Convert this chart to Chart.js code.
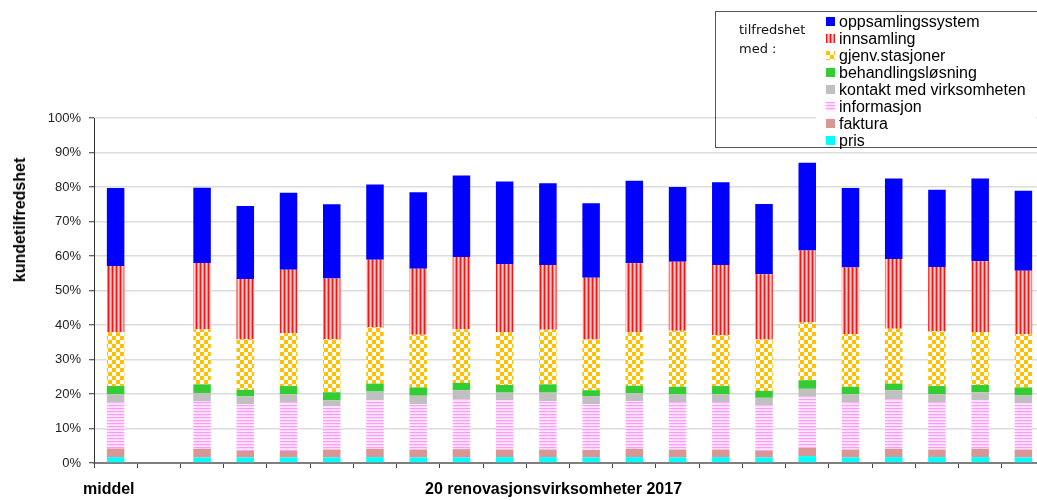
<!DOCTYPE html>
<html>
<head>
<meta charset="utf-8">
<script src="https://cdn.jsdelivr.net/npm/chart.js@4/dist/chart.umd.min.js"></script>
<style>
    html, body { margin: 0; padding: 0; overflow: hidden; background: #fff; }
    body { width: 1037px; height: 500px; position: relative; font-family: "Liberation Sans", Arial, sans-serif; }
    #wrap { position: absolute; left: 0; top: 0; width: 1046px; height: 500px; }
    .lbl { position: absolute; font-weight: bold; font-size: 16px; color: #000; white-space: nowrap; line-height: 16px; }
    #ytitle { left: 20px; top: 220px; transform: translate(-50%, -50%) rotate(-90deg); }
    #legendBox { position: absolute; left: 715px; top: 11px; width: 340px; height: 135px; border: 1.5px solid #555; }
    #legendHead { position: absolute; left: 23px; top: 8px; font-family: "DejaVu Sans", sans-serif; font-size: 13px; line-height: 19px; color: #111; }
    #legendItems { position: absolute; left: 100px; top: 0; width: 220px; height: 135px; background: #fff; }
    .item { position: absolute; left: 10px; height: 17px; display: flex; align-items: center; font-size: 16px; color: #000; white-space: nowrap; }
    .item canvas { margin-right: 4px; }
</style>
</head>
<body>
<div id="wrap"><canvas id="chart" width="1046" height="500"></canvas></div>
<div class="lbl" id="ytitle">kundetilfredshet</div>
<div class="lbl" style="left:83px; top:481px;">middel</div>
<div class="lbl" style="left:425px; top:481px;">20 renovasjonsvirksomheter 2017</div>
<div id="legendBox">
    <div id="legendHead">tilfredshet<br>med :</div>
    <div id="legendItems"></div>
</div>

<script>
// categories: middel, an empty slot, then the 20 companies
const categories = ['middel', ''].concat(Array.from({ length: 20 }, (_, i) => 'v' + (i + 1)));

// series names, bottom of the stack first
const seriesNames = ['pris', 'faktura', 'informasjon', 'kontakt med virksomheten',
    'behandlingsløsning', 'gjenv.stasjoner', 'innsamling', 'oppsamlingssystem'];

// values in percent
const pris = [1.7, null, 1.6, 1.6, 1.6, 1.6, 1.7, 1.6, 1.6, 1.7, 1.7, 1.6, 1.7, 1.6, 1.7, 1.6, 2.0, 1.6, 1.7, 1.7, 1.7, 1.6];
const faktura = [2.5, null, 2.5, 1.9, 1.9, 2.3, 2.4, 2.3, 2.4, 2.2, 2.2, 2.2, 2.4, 2.3, 2.2, 1.9, 2.4, 2.3, 2.4, 2.2, 2.4, 2.3];
const informasjon = [13.3, null, 13.7, 13.5, 14.0, 12.6, 14.1, 13.1, 14.4, 14.3, 14.0, 13.2, 13.8, 13.7, 13.7, 13.2, 14.8, 13.7, 14.3, 13.7, 14.1, 13.5];
const kontakt = [2.4, null, 2.5, 2.3, 2.4, 1.7, 2.5, 2.5, 2.7, 2.2, 2.5, 2.4, 2.3, 2.3, 2.3, 2.2, 2.3, 2.3, 2.7, 2.3, 2.3, 2.2];
const behandling = [2.4, null, 2.5, 1.9, 2.4, 2.3, 2.3, 2.4, 2.1, 2.2, 2.4, 1.7, 2.2, 2.2, 2.4, 2.0, 2.5, 2.2, 1.9, 2.4, 2.1, 2.3];
const gjenv = [15.6, null, 15.9, 14.7, 15.3, 15.4, 16.3, 15.3, 15.6, 15.4, 15.8, 14.7, 15.5, 16.2, 14.7, 14.9, 16.7, 15.3, 15.9, 15.9, 15.4, 15.4];
const innsamling = [19.2, null, 19.3, 17.4, 18.4, 17.6, 19.6, 19.1, 20.9, 19.7, 18.8, 17.9, 20.0, 20.0, 20.4, 18.9, 20.9, 19.3, 20.2, 18.6, 20.5, 18.4];
const oppsamling = [22.6, null, 21.8, 21.2, 22.3, 21.5, 21.8, 22.2, 23.6, 23.9, 23.7, 21.6, 23.9, 21.7, 24.0, 20.4, 25.4, 23.0, 23.4, 22.4, 24.0, 23.2];

const seriesValues = [pris, faktura, informasjon, kontakt, behandling, gjenv, innsamling, oppsamling];

const yTicks = [0, 10, 20, 30, 40, 50, 60, 70, 80, 90, 100];

// fill for each series: plain colour or a pattern name
const seriesFills = ['#00FFFF', '#D99694', 'hstripe', '#C0C0C0', '#33CC33', 'checker', 'vstripe', '#0000FF'];

// small repeating patterns like the office chart fills
function makePattern(ctx, kind) {
    const c = document.createElement('canvas');
    const p = c.getContext('2d');
    if (kind === 'vstripe') {
        const cols = ['#FF1010', '#FF8080', '#FFD0D0', '#FF8080'];
        c.width = 4; c.height = 1;
        cols.forEach((col, i) => { p.fillStyle = col; p.fillRect(i, 0, 1, 1); });
    } else if (kind === 'hstripe') {
        const rows = ['#FF99FF', '#FFD8FF', '#FFE8FF'];
        c.width = 1; c.height = 3;
        rows.forEach((col, i) => { p.fillStyle = col; p.fillRect(0, i, 1, 1); });
    } else if (kind === 'checker') {
        c.width = 8; c.height = 8;
        p.fillStyle = '#FFFFFF'; p.fillRect(0, 0, 8, 8);
        p.fillStyle = '#FFC000';
        p.fillRect(0, 0, 4, 4);
        p.fillRect(4, 4, 4, 4);
    }
    return ctx.createPattern(c, 'repeat');
}

function fillFor(ctx, f) {
    return f.charAt(0) === '#' ? f : makePattern(ctx, f);
}

document.addEventListener('DOMContentLoaded', function() {
    const chartElement = document.getElementById('chart');
    const ctx = chartElement.getContext('2d');

    const datasets = seriesNames.map((name, i) => ({
        label: name,
        data: seriesValues[i],
        backgroundColor: fillFor(ctx, seriesFills[i]),
        borderWidth: 0,
        barPercentage: 0.405,
        categoryPercentage: 1.0
    }));

    new Chart(ctx, {
        type: 'bar',
        data: { labels: categories, datasets: datasets },
        options: {
            responsive: false,
            animation: false,
            devicePixelRatio: 1,
            layout: { padding: { top: 118, right: 1, left: 0, bottom: 0 } },
            plugins: { legend: { display: false }, tooltip: { enabled: false } },
            scales: {
                x: {
                    stacked: true,
                    afterFit: function(scale) { scale.height = 37; },
                    grid: { offset: true, drawOnChartArea: false, tickLength: 5, tickColor: '#444', tickWidth: 1 },
                    border: { color: '#7F7F7F', width: 2 },
                    ticks: { callback: () => '' }
                },
                y: {
                    stacked: true,
                    min: 0,
                    max: 100,
                    afterFit: function(scale) { scale.width = 94; },
                    afterBuildTicks: function(scale) { scale.ticks = yTicks.map(v => ({ value: v })); },
                    grid: { color: '#DCDCDC', lineWidth: 1.5, tickLength: 5, tickColor: '#333', tickWidth: 1 },
                    border: { color: '#333', width: 1 },
                    ticks: {
                        padding: 8,
                        color: '#222',
                        font: { family: '"Liberation Sans", Arial, sans-serif', size: 13 },
                        callback: v => v + '%'
                    }
                }
            }
        }
    });

    // html legend, top series first
    const box = document.getElementById('legendItems');
    seriesNames.slice().reverse().forEach((name, i) => {
        const idx = seriesNames.length - 1 - i;
        const row = document.createElement('div');
        row.className = 'item';
        row.style.top = (1 + i * 17.05) + 'px';
        const mark = document.createElement('canvas');
        mark.width = 9; mark.height = 9;
        const mctx = mark.getContext('2d');
        mctx.fillStyle = fillFor(mctx, seriesFills[idx]);
        mctx.fillRect(0, 0, 9, 9);
        row.appendChild(mark);
        row.appendChild(document.createTextNode(name));
        box.appendChild(row);
    });
});
</script>
</body>
</html>
